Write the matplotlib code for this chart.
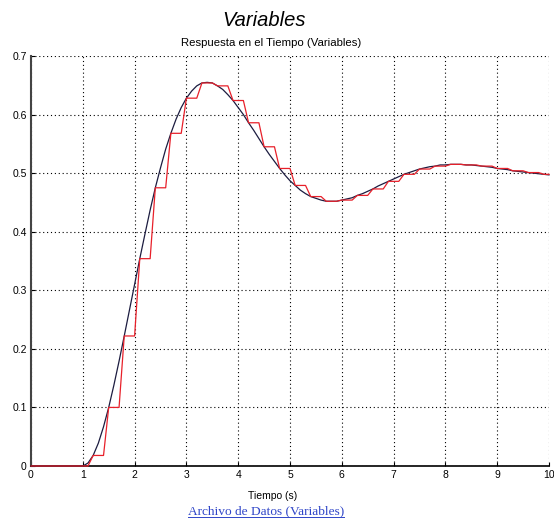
import matplotlib
matplotlib.use("Agg")
import matplotlib.pyplot as plt
import numpy as np
from matplotlib.lines import Line2D

# continuous response, read every 0.1 s from t=0 to t=10
t_cont = np.round(np.arange(101) * 0.1, 1)
y_cont = [0.000, 0.000, 0.000, 0.000, 0.000, 0.000, 0.000, 0.000, 0.000, 0.000,
          0.000, 0.005, 0.018, 0.039, 0.067, 0.100, 0.138, 0.179, 0.222, 0.266,
          0.310, 0.354, 0.396, 0.437, 0.475, 0.509, 0.541, 0.568, 0.592, 0.612,
          0.628, 0.640, 0.649, 0.654, 0.655, 0.654, 0.649, 0.643, 0.634, 0.624,
          0.612, 0.600, 0.586, 0.573, 0.559, 0.545, 0.532, 0.520, 0.508, 0.497,
          0.487, 0.479, 0.471, 0.465, 0.460, 0.457, 0.454, 0.452, 0.452, 0.452,
          0.454, 0.456, 0.458, 0.462, 0.465, 0.469, 0.473, 0.478, 0.482, 0.486,
          0.490, 0.494, 0.498, 0.501, 0.504, 0.507, 0.509, 0.511, 0.512, 0.514,
          0.514, 0.515, 0.515, 0.515, 0.514, 0.514, 0.513, 0.512, 0.511, 0.510,
          0.508, 0.507, 0.506, 0.504, 0.503, 0.502, 0.501, 0.500, 0.499, 0.498,
          0.497]

# sampled (held) values, one every 0.3 s from t=0
y_samp = [0.000, 0.000, 0.000, 0.000, 0.018, 0.100, 0.222, 0.354, 0.475, 0.568,
          0.628, 0.654, 0.649, 0.624, 0.586, 0.545, 0.508, 0.479, 0.460, 0.452,
          0.454, 0.462, 0.473, 0.486, 0.498, 0.507, 0.512, 0.515, 0.514, 0.512,
          0.508, 0.504, 0.501, 0.498]
hold = 3  # samples every 3 points of the 0.1 s grid

x_ticks = list(range(0, 11))
y_ticks = [0, 0.1, 0.2, 0.3, 0.4, 0.5, 0.6, 0.7]
y_ticklabels = ['0', '0.1', '0.2', '0.3', '0.4', '0.5', '0.6', '0.7']

W, H = 554, 521
fig = plt.figure(figsize=(W / 100, H / 100), dpi=100)
ax = fig.add_axes([31 / W, 55 / H, 518 / W, 410 / H])

y_red = np.repeat(y_samp, hold)[:len(t_cont)]
ax.plot(t_cont, y_cont, color='#1c1c40', lw=0.9, zorder=3, clip_on=False)
ax.plot(t_cont, y_red, color='#e8202a', lw=0.9, zorder=4, clip_on=False)

ax.set_xlim(0, 10)
ax.set_ylim(0, 0.7)
ax.set_xticks(x_ticks)
ax.set_yticks(y_ticks)
ax.set_yticklabels(y_ticklabels)
ax.grid(True, color='black', lw=0.8, linestyle=(0, (1, 2.5)))
ax.set_axisbelow(True)

for s in ['top', 'right']:
    ax.spines[s].set_visible(False)
ax.spines['left'].set_color('#444444')
ax.spines['left'].set_linewidth(1.5)
ax.spines['bottom'].set_color('black')
ax.spines['bottom'].set_linewidth(1.2)
ax.tick_params(direction='in', length=3, width=0.8, labelsize=7.5, pad=3)
for lab in ax.get_xticklabels() + ax.get_yticklabels():
    lab.set_family('Liberation Sans')

fig.text(264 / W, 1 - 21 / H, 'Variables', family='Liberation Sans', style='italic',
         fontsize=14.5, ha='center', va='center')
fig.text(271 / W, 1 - 43 / H, 'Respuesta en el Tiempo (Variables)', family='Liberation Sans',
         fontsize=8.2, ha='center', va='center')
fig.text(273 / W, 1 - 496 / H, 'Tiempo (s)', family='Liberation Sans',
         fontsize=7.5, ha='center', va='center')
link = fig.text(266 / W, 1 - 511 / H, 'Archivo de Datos (Variables)', family='Liberation Serif',
                fontsize=9.6, ha='center', va='center', color='#2f45c8')

# underline the link
fig.canvas.draw()
bb = link.get_window_extent()
uy = bb.y0 + 0.5
fig.add_artist(Line2D([bb.x0 / W, bb.x1 / W], [uy / H, uy / H], transform=fig.transFigure,
                      color='#2f45c8', lw=0.7))

fig.savefig('out.png', dpi=100)
